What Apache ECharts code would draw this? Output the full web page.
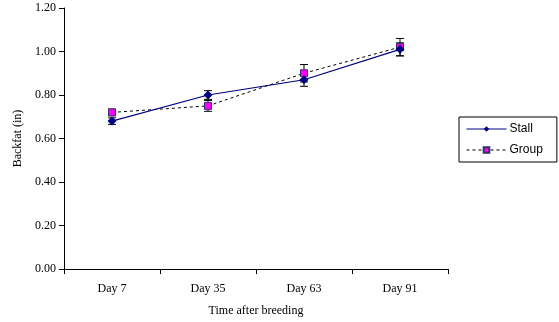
<!DOCTYPE html>
<html>
<head>
<meta charset="utf-8">
<script src="https://cdn.jsdelivr.net/npm/echarts@6/dist/echarts.min.js"></script>
<style>
  html, body { margin: 0; padding: 0; background: #ffffff; }
  #chart { width: 559px; height: 322px; }
</style>
</head>
<body>
<div id="chart"></div>
<script>
// Backfat depth over gestation, stall vs group housing
const categories = ['Day 7', 'Day 35', 'Day 63', 'Day 91'];
const stallMean = [0.68, 0.80, 0.87, 1.01];
const stallErr = [0.015, 0.02, 0.03, 0.03];
const groupMean = [0.72, 0.75, 0.90, 1.02];
const groupErr = [0.015, 0.025, 0.04, 0.04];
const yTicks = { min: 0, max: 1.2, interval: 0.2 };

const serif = '"Liberation Serif", "Times New Roman", serif';
const sans = '"Liberation Sans", Arial, sans-serif';

function errorData(mean, err) {
  return mean.map((m, i) => [i, m - err[i], m + err[i]]);
}

function renderErrorBar(params, api) {
  const x = api.value(0);
  const lo = api.coord([x, api.value(1)]);
  const hi = api.coord([x, api.value(2)]);
  const half = 4;
  const style = { stroke: '#000', lineWidth: 1 };
  return {
    type: 'group',
    children: [
      { type: 'line', shape: { x1: lo[0], y1: lo[1], x2: hi[0], y2: hi[1] }, style },
      { type: 'line', shape: { x1: lo[0] - half, y1: lo[1], x2: lo[0] + half, y2: lo[1] }, style },
      { type: 'line', shape: { x1: hi[0] - half, y1: hi[1], x2: hi[0] + half, y2: hi[1] }, style }
    ]
  };
}

const chart = echarts.init(document.getElementById('chart'), null, { renderer: 'canvas' });
chart.setOption({
  animation: false,
  backgroundColor: '#ffffff',
  grid: { left: 64, top: 8, width: 384, bottom: 52, containLabel: false },
  legend: {
    data: ['Stall', 'Group'],
    orient: 'vertical',
    left: 459,
    top: 117,
    padding: [6, 14, 6, 7],
    itemGap: 9,
    itemWidth: 40,
    itemHeight: 7,
    borderColor: '#000',
    borderWidth: 1,
    lineStyle: { width: 1 },
    textStyle: { fontFamily: sans, fontSize: 12, color: '#000', padding: [0, 0, 0, -2] }
  },
  xAxis: {
    type: 'category',
    data: categories,
    boundaryGap: true,
    name: 'Time after breeding',
    nameLocation: 'middle',
    nameGap: 36,
    nameTextStyle: { fontFamily: serif, fontSize: 12, color: '#000' },
    axisLine: { lineStyle: { color: '#000', width: 1 } },
    axisTick: { show: true, length: 5, lineStyle: { color: '#000' } },
    axisLabel: { fontFamily: serif, fontSize: 12, color: '#000', margin: 14 },
    splitLine: { show: false }
  },
  yAxis: {
    type: 'value',
    min: yTicks.min,
    max: yTicks.max,
    interval: yTicks.interval,
    name: 'Backfat (in)',
    nameLocation: 'middle',
    nameGap: 40,
    nameRotate: 90,
    nameTextStyle: { fontFamily: serif, fontSize: 12, color: '#000' },
    axisLine: { show: true, lineStyle: { color: '#000', width: 1 } },
    axisTick: { show: true, length: 5, lineStyle: { color: '#000' } },
    axisLabel: { fontFamily: serif, fontSize: 12, color: '#000', margin: 8,
      formatter: v => v.toFixed(2) },
    splitLine: { show: false }
  },
  series: [
    {
      name: 'Stall-err', type: 'custom', renderItem: renderErrorBar,
      data: errorData(stallMean, stallErr), z: 1, silent: true
    },
    {
      name: 'Group-err', type: 'custom', renderItem: renderErrorBar,
      data: errorData(groupMean, groupErr), z: 1, silent: true
    },
    {
      name: 'Stall', type: 'line', data: stallMean, z: 3,
      symbol: 'diamond', symbolSize: 9,
      lineStyle: { color: '#000080', width: 1.2 },
      itemStyle: { color: '#000080', borderColor: '#000080', borderWidth: 0 }
    },
    {
      name: 'Group', type: 'line', data: groupMean, z: 2,
      symbol: 'rect', symbolSize: 7,
      lineStyle: { color: '#000', width: 1, type: [3, 3] },
      itemStyle: { color: '#ff00ff', borderColor: '#333366', borderWidth: 1 }
    }
  ]
});
</script>
</body>
</html>
